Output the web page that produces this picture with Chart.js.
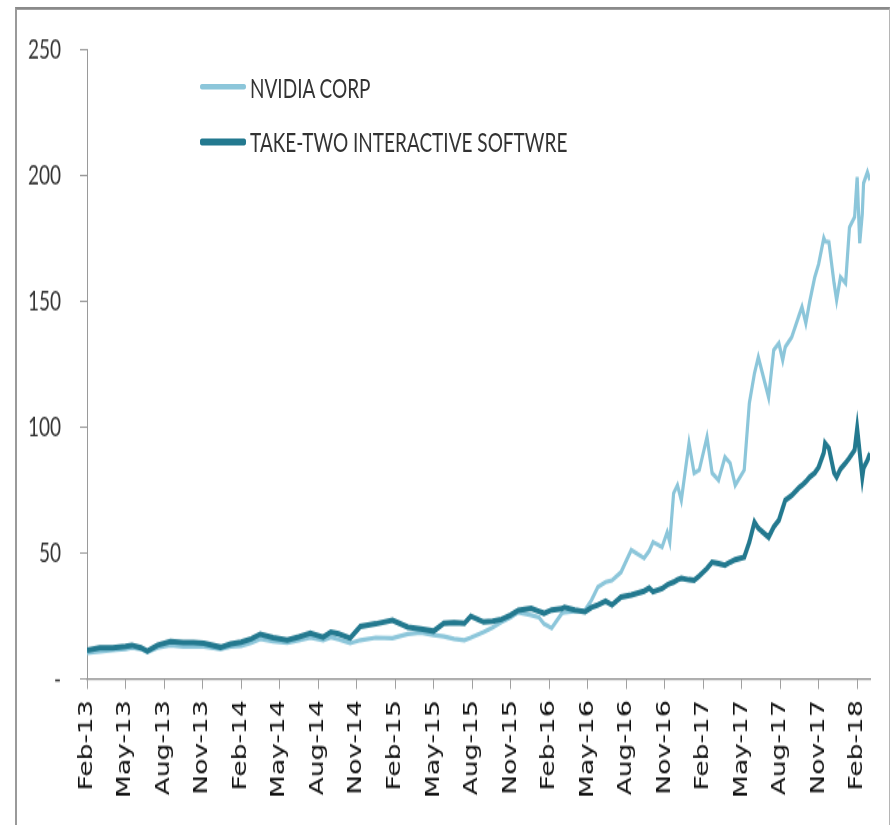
<!DOCTYPE html>
<html>
<head>
<meta charset="utf-8">
<title>NVIDIA vs Take-Two</title>
<script src="https://cdn.jsdelivr.net/npm/chart.js"></script>
<style>
  html, body { margin: 0; padding: 0; background: #fff; overflow: hidden; }
  #wrap { width: 892px; height: 825px; overflow: hidden; position: relative; }
  /* the reference is stretched vertically, so draw at 590px and scale up */
  #stage { position: absolute; left: 0; top: 0; width: 892px; height: 590px;
           transform: scaleY(1.3983); transform-origin: 0 0; }
  #frame { position: absolute; left: 15px; top: 5px; width: 872px; height: 620px;
           border-top: 2px solid #8a8a8a; border-left: 2px solid #9a9a9a; border-right: 1px solid #b5b5b5; }
  #chartCanvas { position: absolute; left: 0; top: 0; }
  #legend { position: absolute; left: 200px; top: 50px; font-family: Lato, "Open Sans", sans-serif;
            font-size: 19px; color: #333; }
  .item { position: absolute; left: 0; white-space: nowrap; display: flex; align-items: center; height: 24px; }
  .swatch { display: inline-block; width: 46px; margin-right: 4px; border-radius: 2px; }
</style>
</head>
<body>
<div id="wrap">
<div id="stage">
  <div id="frame"></div>
  <canvas id="chartCanvas" width="892" height="590"></canvas>
  <div id="legend"></div>
</div>
</div>
<script>
// month index, 0 = Feb-13
var months = [0, 1, 2, 3, 3.5, 4.2, 4.7, 5.5, 6.5, 7.5, 8.3, 9.1, 10.4, 11.2, 12, 12.8, 13.5, 14.5,
  15.6, 16.5, 17.4, 18.4, 19, 19.6, 20.5, 21.3, 22.5, 23.8, 25, 26, 27, 27.8, 28.6, 29.4, 29.9, 30.9,
  31.6, 32.3, 33, 33.6, 34.6, 35.2, 35.6, 36.2, 37, 37.2, 38, 38.8, 39.3, 39.8, 40.4, 40.9, 41.6,
  42.4, 43.4, 43.8, 44.1, 44.8, 45.2, 45.4, 45.7, 46, 46.3, 46.9, 47.3, 47.7, 48.3, 48.7, 49.2, 49.7,
  50.1, 50.5, 51.2, 51.6, 52, 52.3, 53.1, 53.5, 53.9, 54.2, 54.4, 54.9, 55.5, 55.7, 56, 56.3, 56.7,
  57, 57.4, 57.5, 57.8, 58.2, 58.4, 58.7, 59.1, 59.4, 59.8, 60, 60.2, 60.4, 60.5, 60.8, 61];

var nvda = [10.5, 11.0, 11.5, 12.0, 12.5, 12.0, 10.8, 12.5, 13.5, 13.0, 13.0, 13.0, 12.0, 13.0, 13.2, 14.5, 16.0, 15.0,
  14.5, 15.5, 16.5, 15.5, 16.7, 15.8, 14.3, 15.5, 16.5, 16.3, 18.0, 18.5, 17.5, 17.0, 16.0, 15.5, 16.5, 18.7,
  20.5, 22.7, 24.5, 26.6, 25.5, 24.6, 22.0, 20.3, 26.2, 26.5, 27.0, 27.4, 31.4, 36.6, 38.6, 39.3, 42.5,
  51.3, 48.1, 51.0, 54.5, 52.5, 58.4, 54.5, 73.9, 77.1, 71.1, 93.8, 81.9, 83.1, 96.2, 81.9, 79.1, 88.2,
  85.9, 77.1, 83.1, 109.7, 121.6, 128.0, 112.0, 130.8, 133.5, 126.8, 132.0, 135.9, 145.0, 147.9, 141.5, 150.0, 159.8,
  165.0, 175.3, 174.0, 173.7, 157.4, 150.6, 159.8, 157.4, 179.6, 183.6, 199.5, 173.3, 185.0, 197.1, 201.5, 198.3];

var ttwo = [11.5, 12.5, 12.5, 13.0, 13.5, 12.5, 11.2, 13.5, 15.0, 14.5, 14.5, 14.3, 12.7, 14.0, 14.7, 16.0, 17.9, 16.5,
  15.5, 16.8, 18.3, 16.7, 18.7, 18.0, 16.3, 21.0, 22.0, 23.4, 20.7, 20.0, 19.1, 22.2, 22.5, 22.2, 25.0, 22.7,
  23.0, 23.8, 25.5, 27.4, 28.2, 27.0, 26.2, 27.5, 28.0, 28.6, 27.5, 26.8, 28.5, 29.5, 31.0, 29.5, 32.6,
  33.5, 35.0, 36.2, 34.8, 36.0, 37.5, 38.0, 38.6, 39.5, 40.1, 39.5, 39.3, 41.0, 44.0, 46.5, 46.0, 45.3,
  46.5, 47.5, 48.5, 54.5, 62.4, 60.0, 56.4, 60.5, 63.2, 68.0, 71.1, 73.0, 76.3, 77.0, 78.5, 80.3, 82.0,
  84.3, 90.0, 93.8, 91.8, 82.0, 80.3, 83.5, 85.9, 88.0, 91.0, 99.8, 90.0, 80.3, 84.0, 87.0, 89.8];

var tickLabels = ['Feb-13', 'May-13', 'Aug-13', 'Nov-13', 'Feb-14', 'May-14', 'Aug-14', 'Nov-14',
  'Feb-15', 'May-15', 'Aug-15', 'Nov-15', 'Feb-16', 'May-16', 'Aug-16', 'Nov-16',
  'Feb-17', 'May-17', 'Aug-17', 'Nov-17', 'Feb-18'];

var seriesNames = ['NVIDIA CORP', 'TAKE-TWO INTERACTIVE SOFTWRE'];
var seriesColors = ['#8cc6da', '#23798f'];
var seriesWidths = [3.2, 4];

function toPoints(vals) {
  return months.map(function(m, i) { return {x: m, y: vals[i]}; });
}

var legend = document.getElementById('legend');
[0, 1].forEach(function(i) {
  var row = document.createElement('div');
  row.className = 'item';
  row.style.top = (i * 39.4) + 'px';
  var sw = document.createElement('span');
  sw.className = 'swatch';
  sw.style.height = (seriesWidths[i] + 0.5) + 'px';
  sw.style.background = seriesColors[i];
  row.appendChild(sw);
  row.appendChild(document.createTextNode(seriesNames[i]));
  legend.appendChild(row);
});

var ctx = document.getElementById('chartCanvas').getContext('2d');
var chart = new Chart(ctx, {
  type: 'line',
  data: {
    datasets: [{
      label: seriesNames[0],
      data: toPoints(nvda),
      borderColor: seriesColors[0],
      borderWidth: seriesWidths[0],
      pointRadius: 0,
      tension: 0,
      order: 1
    }, {
      label: seriesNames[1],
      data: toPoints(ttwo),
      borderColor: seriesColors[1],
      borderWidth: seriesWidths[1],
      pointRadius: 0,
      tension: 0,
      order: 0
    }]
  },
  options: {
    responsive: false,
    animation: false,
    devicePixelRatio: 1,
    layout: { padding: { left: 0, right: 22, top: 35.8, bottom: 0 } },
    plugins: { legend: { display: false }, tooltip: { enabled: false } },
    scales: {
      x: {
        type: 'linear',
        min: 0,
        max: 61,
        afterFit: function(scale) { scale.height = 590 - 485.7; },
        border: { color: '#8a8a8a', width: 1.2 },
        grid: { drawOnChartArea: false, color: '#a0a0a0', tickLength: 7 },
        ticks: {
          stepSize: 3,
          includeBounds: false,
          autoSkip: false,
          maxRotation: 90,
          minRotation: 90,
          padding: 8,
          color: '#111',
          font: { family: 'DejaVu Sans', size: 19 },
          callback: function(v) { return tickLabels[v / 3]; }
        }
      },
      y: {
        min: 0,
        max: 250,
        afterFit: function(scale) { scale.width = 87; },
        border: { color: '#9a9a9a', width: 1 },
        grid: { drawOnChartArea: false, color: '#9a9a9a', tickLength: 7 },
        ticks: {
          stepSize: 50,
          padding: 19,
          color: '#333',
          font: { family: 'Lato', size: 19 },
          callback: function(v) { return v === 0 ? '-' : v; }
        }
      }
    }
  }
});
</script>
</body>
</html>
